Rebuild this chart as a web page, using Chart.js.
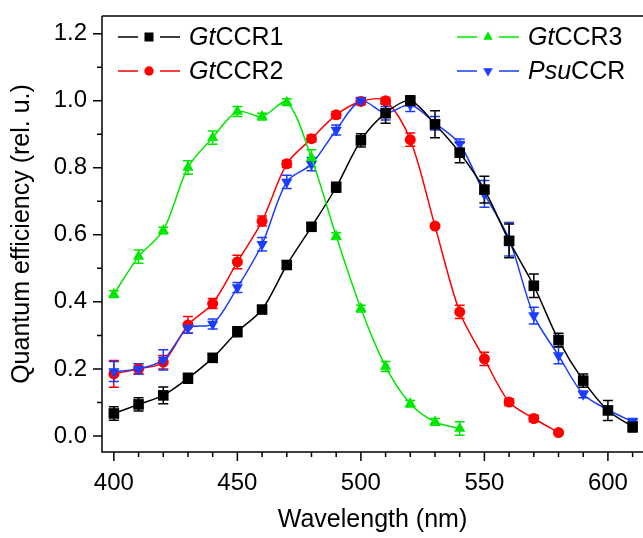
<!DOCTYPE html>
<html>
<head>
<meta charset="utf-8">
<script src="https://cdn.jsdelivr.net/npm/chart.js@4.4.1/dist/chart.umd.min.js"></script>
<style>
  html, body { margin: 0; padding: 0; background: #fff; }
  #wrap { width: 643px; height: 538px; }
</style>
</head>
<body>
<div id="wrap"><canvas id="qeChart" width="643" height="538"></canvas></div>
<script>
// wavelengths (nm) for each series
const wlCCR1 = [400, 410, 420, 430, 440, 450, 460, 470, 480, 490, 500, 510, 520, 530, 540, 550, 560, 570, 580, 590, 600, 610];
const wlCCR2 = [400, 410, 420, 430, 440, 450, 460, 470, 480, 490, 500, 510, 520, 530, 540, 550, 560, 570, 580];
const wlCCR3 = [400, 410, 420, 430, 440, 450, 460, 470, 480, 490, 500, 510, 520, 530, 540];
const wlPsu = [400, 410, 420, 430, 440, 450, 460, 470, 480, 490, 500, 510, 520, 530, 540, 550, 560, 570, 580, 590, 600, 610];

// quantum efficiency (rel. u.) and error bars
const gtCCR1 = [0.067, 0.094, 0.121, 0.172, 0.233, 0.311, 0.377, 0.51, 0.624, 0.742, 0.882, 0.963, 1.0, 0.93, 0.845, 0.735, 0.582, 0.448, 0.286, 0.165, 0.076, 0.027];
const errCCR1 = [0.02, 0.02, 0.025, 0.015, 0.01, 0.015, 0.01, 0.01, 0.01, 0.015, 0.02, 0.03, 0.015, 0.04, 0.03, 0.04, 0.05, 0.035, 0.02, 0.02, 0.03, 0.015];
const gtCCR2 = [0.185, 0.2, 0.22, 0.331, 0.395, 0.519, 0.641, 0.812, 0.887, 0.958, 0.998, 1.0, 0.884, 0.626, 0.37, 0.23, 0.101, 0.052, 0.01];
const errCCR2 = [0.04, 0.015, 0.02, 0.025, 0.015, 0.02, 0.015, 0.01, 0.01, 0.01, 0.01, 0.01, 0.02, 0.005, 0.02, 0.02, 0.01, 0.01, 0.005];
const gtCCR3 = [0.423, 0.535, 0.613, 0.801, 0.89, 0.968, 0.953, 0.996, 0.829, 0.596, 0.38, 0.207, 0.096, 0.042, 0.022];
const errCCR3 = [0.01, 0.02, 0.01, 0.02, 0.02, 0.015, 0.01, 0.01, 0.025, 0.01, 0.01, 0.015, 0.01, 0.01, 0.02];
const psuCCR = [0.192, 0.2, 0.227, 0.322, 0.334, 0.443, 0.572, 0.758, 0.811, 0.913, 1.0, 0.963, 0.988, 0.933, 0.871, 0.722, 0.587, 0.359, 0.24, 0.124, 0.078, 0.042];
const errPsu = [0.03, 0.015, 0.03, 0.015, 0.015, 0.015, 0.02, 0.02, 0.02, 0.015, 0.01, 0.02, 0.02, 0.02, 0.015, 0.04, 0.05, 0.025, 0.025, 0.01, 0.01, 0.01];

// axis ticks
const xMajor = [400, 450, 500, 550, 600];
const xMinor = [410, 420, 430, 440, 460, 470, 480, 490, 510, 520, 530, 540, 560, 570, 580, 590, 610];
const yMajor = [0.0, 0.2, 0.4, 0.6, 0.8, 1.0, 1.2];
const yMinor = [0.1, 0.3, 0.5, 0.7, 0.9, 1.1];

const FONT = '"Liberation Sans", Arial, Helvetica, sans-serif';
const BLACK = '#000000', RED = '#ff0000', GREEN = '#00e800', BLUE = '#1a3cff';

function pts(xs, ys) {
  return xs.map((x, i) => ({ x: x, y: ys[i] }));
}

function series(label, prefix, rest, xs, ys, errs, color, style, radius, rotation, order) {
  return {
    label: label,
    prefix: prefix,
    rest: rest,
    data: pts(xs, ys),
    errors: errs,
    borderColor: color,
    backgroundColor: color,
    pointBackgroundColor: color,
    pointBorderColor: color,
    pointBorderWidth: 0,
    pointStyle: style,
    pointRadius: radius,
    pointRotation: rotation,
    borderWidth: 1.5,
    tension: 0.3,
    order: order
  };
}

const datasets = [
  series('GtCCR1', 'Gt', 'CCR1', wlCCR1, gtCCR1, errCCR1, BLACK, 'rect', 7.5, 0, 1),
  series('GtCCR2', 'Gt', 'CCR2', wlCCR2, gtCCR2, errCCR2, RED, 'circle', 5.5, 0, 3),
  series('GtCCR3', 'Gt', 'CCR3', wlCCR3, gtCCR3, errCCR3, GREEN, 'triangle', 6.5, 0, 0),
  series('PsuCCR', 'Psu', 'CCR', wlPsu, psuCCR, errPsu, BLUE, 'triangle', 6.5, 180, 2)
];

// error bars under the markers
const errorBarPlugin = {
  id: 'errorBars',
  beforeDatasetsDraw(chart) {
    const ctx = chart.ctx;
    const xs = chart.scales.x, ys = chart.scales.y;
    const order = [1, 3, 0, 2];
    ctx.save();
    order.forEach(di => {
      const ds = chart.data.datasets[di];
      ctx.strokeStyle = ds.borderColor;
      ctx.lineWidth = 1.5;
      ds.data.forEach((p, i) => {
        const e = ds.errors[i];
        const px = xs.getPixelForValue(p.x);
        const top = ys.getPixelForValue(p.y + e);
        const bot = ys.getPixelForValue(p.y - e);
        ctx.beginPath();
        ctx.moveTo(px, top); ctx.lineTo(px, bot);
        ctx.moveTo(px - 5, top); ctx.lineTo(px + 5, top);
        ctx.moveTo(px - 5, bot); ctx.lineTo(px + 5, bot);
        ctx.stroke();
      });
    });
    ctx.restore();
  }
};

// axis lines with outward major/minor ticks
const axesPlugin = {
  id: 'axesFrame',
  afterDraw(chart) {
    const ctx = chart.ctx;
    const a = chart.chartArea;
    const xs = chart.scales.x, ys = chart.scales.y;
    ctx.save();
    ctx.strokeStyle = '#000';
    ctx.lineWidth = 1.5;
    ctx.beginPath();
    ctx.moveTo(a.left, a.top); ctx.lineTo(a.right + 2, a.top);
    ctx.moveTo(a.left, a.top); ctx.lineTo(a.left, a.bottom);
    ctx.lineTo(a.right + 2, a.bottom);
    xMajor.forEach(v => { const p = xs.getPixelForValue(v); ctx.moveTo(p, a.bottom); ctx.lineTo(p, a.bottom + 9); });
    xMinor.forEach(v => { const p = xs.getPixelForValue(v); ctx.moveTo(p, a.bottom); ctx.lineTo(p, a.bottom + 5); });
    yMajor.forEach(v => { const p = ys.getPixelForValue(v); ctx.moveTo(a.left, p); ctx.lineTo(a.left - 9, p); });
    yMinor.forEach(v => { const p = ys.getPixelForValue(v); ctx.moveTo(a.left, p); ctx.lineTo(a.left - 5, p); });
    ctx.stroke();
    ctx.restore();
  }
};

// two-column legend with italic prefixes
const legendPlugin = {
  id: 'qeLegend',
  afterDraw(chart) {
    const ctx = chart.ctx;
    const spots = [
      { x: 118, y: 37 }, { x: 118, y: 71 },
      { x: 457, y: 37 }, { x: 457, y: 71 }
    ];
    ctx.save();
    chart.data.datasets.forEach((ds, i) => {
      const s = spots[i];
      ctx.strokeStyle = ds.borderColor;
      ctx.lineWidth = 1.5;
      ctx.beginPath();
      ctx.moveTo(s.x, s.y); ctx.lineTo(s.x + 20, s.y);
      ctx.moveTo(s.x + 42, s.y); ctx.lineTo(s.x + 62, s.y);
      ctx.stroke();
      ctx.fillStyle = ds.borderColor;
      Chart.helpers.drawPoint(ctx, {
        pointStyle: ds.pointStyle,
        rotation: ds.pointRotation,
        radius: ds.pointRadius * 0.85,
        borderWidth: 0
      }, s.x + 31, s.y);
      ctx.fillStyle = '#000';
      ctx.textBaseline = 'middle';
      ctx.textAlign = 'left';
      let tx = s.x + 71;
      ctx.font = 'italic 25px ' + FONT;
      ctx.fillText(ds.prefix, tx, s.y + 1);
      tx += ctx.measureText(ds.prefix).width;
      ctx.font = '25px ' + FONT;
      ctx.fillText(ds.rest, tx, s.y + 1);
    });
    ctx.restore();
  }
};

new Chart(document.getElementById('qeChart'), {
  type: 'line',
  data: { datasets: datasets },
  options: {
    responsive: false,
    animation: false,
    layout: { autoPadding: false, padding: { top: 16, right: 0, left: 0, bottom: 0 } },
    plugins: {
      legend: { display: false },
      tooltip: { enabled: false }
    },
    scales: {
      x: {
        type: 'linear',
        min: 395.2,
        max: 614.2,
        grid: { display: false, drawTicks: false },
        border: { display: false },
        afterBuildTicks(scale) { scale.ticks = xMajor.map(v => ({ value: v })); },
        afterFit(scale) {
          scale.height = 86;
          scale.paddingLeft = 0;
          scale.paddingRight = 0;
        },
        ticks: {
          padding: 17,
          color: '#000',
          font: { family: FONT, size: 24 },
          maxRotation: 0
        },
        title: {
          display: true,
          text: 'Wavelength (nm)',
          color: '#000',
          font: { family: FONT, size: 25 },
          padding: { top: 0, bottom: 3 }
        }
      },
      y: {
        type: 'linear',
        min: -0.048,
        max: 1.253,
        grid: { display: false, drawTicks: false },
        border: { display: false },
        afterBuildTicks(scale) { scale.ticks = yMajor.map(v => ({ value: v })); },
        afterFit(scale) {
          scale.width = 102;
          scale.paddingTop = 0;
          scale.paddingBottom = 0;
        },
        ticks: {
          padding: 15,
          color: '#000',
          font: { family: FONT, size: 24 },
          callback: v => v.toFixed(1)
        },
        title: {
          display: true,
          text: 'Quantum efficiency (rel. u.)',
          color: '#000',
          font: { family: FONT, size: 25 },
          padding: { top: 7, bottom: 7 }
        }
      }
    }
  },
  plugins: [errorBarPlugin, axesPlugin, legendPlugin]
});
</script>
</body>
</html>
